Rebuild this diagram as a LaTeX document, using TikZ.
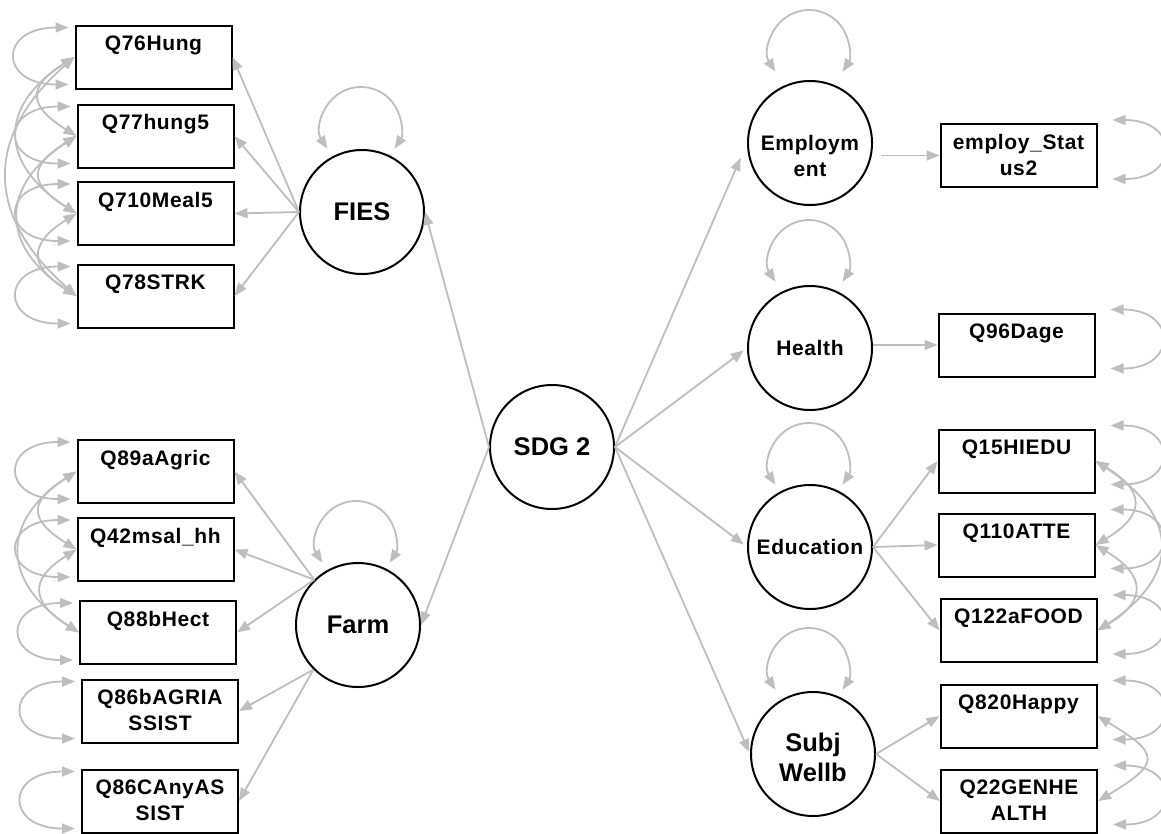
\documentclass[tikz,border=0pt]{standalone}
\usepackage{fontspec}
\setmainfont{Liberation Sans}
\usetikzlibrary{arrows.meta,calc}

\definecolor{pathgrey}{RGB}{190,190,190}

\tikzset{
  obs/.style={draw=black, line width=2pt, minimum width=156pt, minimum height=63pt, inner sep=0pt},
  latent/.style={circle, draw=black, line width=2pt, minimum size=124pt, inner sep=0pt,
    font=\fontsize{25.5}{30}\selectfont\bfseries},
  latsmall/.style={latent, font=\fontsize{21}{27}\selectfont\bfseries\addfontfeature{LetterSpace=3}},
  lbl/.style={anchor=north, inner sep=0pt, align=center,
    font=\fontsize{21}{26}\selectfont\bfseries\addfontfeature{LetterSpace=3}},
  lblbig/.style={anchor=north, inner sep=0pt, align=center, font=\fontsize{25.5}{30}\selectfont\bfseries},
  onepath/.style={draw=pathgrey, line width=1.8pt, -{Triangle[length=13pt,width=10pt]}},
  twoway/.style={draw=pathgrey, line width=1.8pt,
    {Triangle[length=13pt,width=10pt]}-{Triangle[length=13pt,width=10pt]}},
}

% observed variable: box with its label set near the top edge
\newcommand\obsbox[4]{%
  \node[obs] (#1) at (#2,#3) {};
  \node[lbl] (#1-t) at ([shift={(0,11)}]#1.north) {#4};}
% variance loop above a latent variable
\newcommand\latloop[3]{%
  \draw[twoway] ($(#1.center)+(#2,#3)+(147:40)$) arc[start angle=147, end angle=393, radius=40];}
% variance loops beside observed variables
\newcommand\varL[1]{%
  \draw[twoway] ([shift={(-6,3)}]#1.north west) .. controls +(-70,0) and +(-70,0) .. ([shift={(-6,-5)}]#1.south west);}
\newcommand\varR[1]{%
  \draw[twoway] ([shift={(15,-3)}]#1.north east) .. controls +(67,0) and +(67,0) .. ([shift={(15,-9)}]#1.south east);}
% covariance arcs between observed variables
\newcommand\covL[4]{%
  \draw[twoway] (#1.west) .. controls +(-#3,#4) and +(-#3,-#4) .. (#2.west);}
\newcommand\covR[4]{%
  \draw[twoway] (#1.east) .. controls +(#3,#4) and +(#3,-#4) .. (#2.east);}

\begin{document}
\begin{tikzpicture}[x=1pt,y=-1pt]
\useasboundingbox (0,0) rectangle (1161,833);

% latent variables
\node[latent] (sdg) at (552,447) {SDG 2};
\node[latent] (fies) at (362,212) {FIES};
\node[latent] (farm) at (358,625) {Farm};
\node[latent] (emp) at (810,143) {};
\node[lbl] (emp-t) at ([shift={(0,-8)}]emp.center) {Employm\\ent};
\node[latsmall] (hea) at (810,348) {Health};
\node[latsmall] (edu) at (810,547) {Education};
\node[latent] (swb) at (813,754) {};
\node[lblbig] (swb-t) at ([shift={(0,-21)}]swb.center) {Subj\\Wellb};

% observed variables, left
\obsbox{q76}{153.5}{57}{Q76Hung}
\obsbox{q77}{155.5}{136}{Q77hung5}
\obsbox{q710}{155.5}{213.5}{Q710Meal5}
\obsbox{q78}{155.5}{296}{Q78STRK}
\obsbox{q89}{155.5}{471.5}{Q89aAgric}
\obsbox{q42}{155.5}{549.5}{Q42msal\_hh}
\obsbox{q88}{158}{632.5}{Q88bHect}
\obsbox{q86b}{160}{711}{Q86bAGRIA\\SSIST}
\obsbox{q86c}{160}{801}{Q86CAnyAS\\SIST}

% observed variables, right
\obsbox{emps}{1018.5}{155.5}{employ\_Stat\\us2}
\obsbox{q96}{1016.5}{345}{Q96Dage}
\obsbox{q15}{1016.5}{461}{Q15HIEDU}
\obsbox{q110}{1016.5}{545}{Q110ATTE}
\obsbox{q122}{1018.5}{630.5}{Q122aFOOD}
\obsbox{q820}{1018.5}{716}{Q820Happy}
\obsbox{q22}{1019}{801}{Q22GENHE\\ALTH}

% structural paths
\draw[onepath] (sdg.west) -- (fies.east);
\draw[onepath] (sdg.west) -- (farm.east);
\draw[onepath, shorten >=16pt] (sdg.east) -- (emp.west);
\draw[onepath, shorten >=4pt] (sdg.east) -- (hea.west);
\draw[onepath, shorten >=4pt] (sdg.east) -- (edu.west);
\draw[onepath, shorten >=2pt] (sdg.east) -- (swb.west);

% loadings
\foreach \b in {q76,q77,q710,q78} \draw[onepath] (fies.west) -- (\b.east);
\foreach \b in {q89,q42,q88} \draw[onepath] (farm.134) -- (\b.east);
\foreach \b in {q86b,q86c} \draw[onepath] (farm.225) -- (\b.east);
\draw[onepath, shorten <=8pt] (emp.east |- emps.west) -- (emps.west);
\draw[onepath] (hea.east |- q96.west) -- (q96.west);
\foreach \b in {q15,q110,q122} \draw[onepath] (edu.east) -- (\b.west);
\foreach \b in {q820,q22} \draw[onepath] (swb.east) -- (\b.west);

% variances of latent variables
\latloop{fies}{-1}{-85}
\latloop{farm}{-2}{-84}
\latloop{emp}{-1}{-93}
\latloop{hea}{-1}{-88}
\latloop{edu}{-1}{-84}
\latloop{swb}{-4}{-86}

% variances of observed variables
\foreach \b in {q76,q77,q710,q78,q89,q42,q88,q86b,q86c} {\varL{\b}}
\foreach \b in {emps,q96,q15,q110,q122,q820,q22} {\varR{\b}}

% covariances
\covL{q76}{q77}{48}{30}
\covL{q77}{q710}{48}{30}
\covL{q710}{q78}{48}{30}
\covL{q76}{q710}{77}{50}
\covL{q77}{q78}{77}{50}
\covL{q76}{q78}{91}{80}
\covL{q89}{q42}{48}{30}
\covL{q42}{q88}{48}{30}
\covL{q89}{q88}{77}{50}
\covR{q15}{q110}{50}{30}
\covR{q110}{q122}{50}{30}
\covR{q15}{q122}{84}{55}
\covR{q820}{q22}{63}{38}
\end{tikzpicture}
\end{document}
